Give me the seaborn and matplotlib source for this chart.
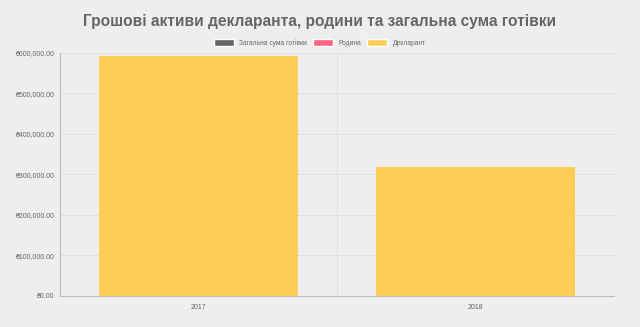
import matplotlib
matplotlib.use("Agg")
import matplotlib.pyplot as plt
import matplotlib.ticker as mticker
from matplotlib.patches import Patch
import seaborn as sns
import pandas as pd

years = ["2017", "2018"]
series = ["Загальна сума готівки", "Родина", "Декларант"]
total_cash = [0, 0]
family = [0, 0]
declarant = [592000, 318500]
colors = ["#666666", "#ff6384", "#ffcd56"]

rows = []
for name, vals in zip(series, [total_cash, family, declarant]):
    for y, v in zip(years, vals):
        rows.append({"year": y, "series": name, "value": v})
df = pd.DataFrame(rows)

sns.set_theme(style="white")
plt.rcParams['font.family'] = ['Liberation Sans', 'DejaVu Sans']

fig = plt.figure(figsize=(6.4, 3.27), dpi=100)
fig.patch.set_facecolor("#eeeeee")
ax = fig.add_axes([0.094, 0.095, 0.865, 0.743])
ax.set_facecolor("#eeeeee")

sns.barplot(data=df, x="year", y="value", hue="series", hue_order=series,
            palette=colors, dodge=False, width=0.72, ax=ax, legend=False,
            saturation=1, linewidth=0)

ax.set_ylim(0, 600000)
ax.set_xlim(-0.5, 1.5)
ax.set_yticks(range(0, 600001, 100000))
ax.yaxis.set_major_formatter(mticker.FuncFormatter(lambda v, p: "₴{:,.2f}".format(v)))
ax.tick_params(axis="y", labelsize=5, colors="#666666", length=0, pad=4)
ax.tick_params(axis="x", labelsize=5, colors="#666666", length=3, width=0.5, pad=3)
ax.set_xlabel("")
ax.set_ylabel("")
for y in range(100000, 600001, 100000):
    ax.axhline(y, color="#dddddd", lw=0.6, zorder=0)
ax.axvline(0.5, color="#dddddd", lw=0.6, zorder=0)
for s in ["top", "right"]:
    ax.spines[s].set_visible(False)
for s in ["left", "bottom"]:
    ax.spines[s].set_color("#bbbbbb")
    ax.spines[s].set_linewidth(0.8)

handles = [Patch(facecolor=c, label=n) for c, n in zip(colors, series)]
fig.legend(handles=handles, loc="center", bbox_to_anchor=(0.5, 0.868), ncol=3,
           frameon=False, fontsize=4.8, handlelength=3.0, handleheight=1.2,
           columnspacing=0.9, handletextpad=0.8, labelcolor="#666666")

fig.text(0.5, 0.935, "Грошові активи декларанта, родини та загальна сума готівки",
         ha="center", va="center", fontsize=11.2, fontweight="bold", color="#666666")

fig.savefig("out.png", dpi=100, facecolor=fig.get_facecolor())
